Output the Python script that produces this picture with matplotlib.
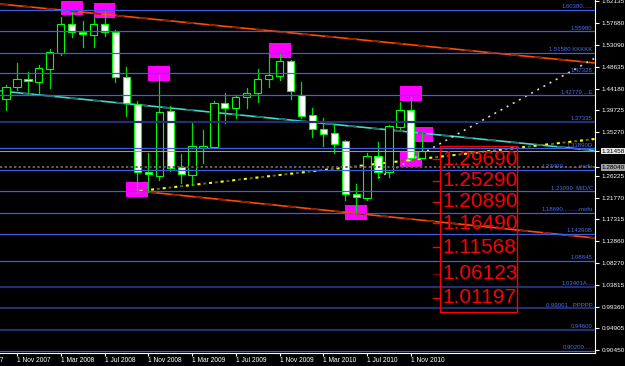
import numpy as np
import matplotlib
matplotlib.use("Agg")
import matplotlib.pyplot as plt
from matplotlib.patches import Rectangle

plt.rcParams['font.family'] = ['Liberation Sans', 'DejaVu Sans']

# monthly bars, month index 0 = 1 Nov 2007
months = list(range(-1, 38))
opens = [1.4205, 1.4452, 1.4617, 1.4555, 1.4822, 1.5151, 1.5747, 1.5583, 1.5521, 1.5747,
         1.5583, 1.4658, 1.4103, 1.2705, 1.2622, 1.3959, 1.2807, 1.2643, 1.3198, 1.3219,
         1.4123, 1.4020, 1.4247, 1.4329, 1.4617, 1.4678, 1.4987, 1.4288, 1.3876, 1.3589,
         1.3506, 1.3342, 1.2252, 1.2170, 1.3034, 1.2705, 1.3630, 1.3979, 1.2992]
highs = [1.4493, 1.4946, 1.4761, 1.4904, 1.5233, 1.5891, 1.5994, 1.5809, 1.5871, 1.5994,
         1.5624, 1.4863, 1.4164, 1.3095, 1.4699, 1.4062, 1.3075, 1.3712, 1.3568, 1.4164,
         1.4329, 1.4288, 1.4432, 1.4822, 1.5131, 1.5151, 1.5005, 1.4555, 1.4020, 1.3815,
         1.3691, 1.3360, 1.2458, 1.3095, 1.3321, 1.3671, 1.4144, 1.4247, 1.3506]
lows = [1.3979, 1.4390, 1.4329, 1.4329, 1.4432, 1.5110, 1.5480, 1.5275, 1.5275, 1.5501,
        1.4555, 1.3856, 1.2293, 1.2293, 1.2540, 1.2725, 1.2478, 1.2437, 1.2890, 1.3198,
        1.3712, 1.3815, 1.4020, 1.4144, 1.4452, 1.4596, 1.4205, 1.3815, 1.3424, 1.3239,
        1.3095, 1.2129, 1.1862, 1.2129, 1.2581, 1.2602, 1.3589, 1.2950, 1.2992]
closes = [1.4452, 1.4617, 1.4576, 1.4843, 1.5172, 1.5747, 1.5583, 1.5542, 1.5747, 1.5583,
          1.4658, 1.4123, 1.2705, 1.2664, 1.3938, 1.2787, 1.2664, 1.3239, 1.3239, 1.4123,
          1.4020, 1.4247, 1.4329, 1.4617, 1.4699, 1.4987, 1.4370, 1.3856, 1.3589, 1.3486,
          1.3280, 1.2252, 1.2190, 1.3034, 1.2705, 1.3650, 1.3979, 1.2992, 1.3146]

# horizontal levels with their labels
levels = [1.60380, 1.55980, 1.51580, 1.47328, 1.42779, 1.37335, 1.31890, 1.27490,
          1.23090, 1.18690, 1.14290, 1.08845, 1.03401, 0.99001, 0.94600, 0.90200]
level_labels = ["1.60380......", "1.55980", "1.51580 KKKKK", "1.47328", "1.42779....E",
                "1.37335", "1.31890D", "1.27490..........mofu", "1.23090  MID/C",
                "1.18690..........mofu", "1.14290B", "1.08845", "1.03401A...",
                "0.99001   PPPPP", "0.94600", "0.90200....."]
dark_levels = [1.37335, 1.03401, 0.99001, 0.94600]

targets = [1.29690, 1.25290, 1.20890, 1.16490, 1.11568, 1.06123, 1.01197]

bid = 1.31458
dotted_level = 1.28040

# trendlines: (month, price) anchors
orange_top = ([-1.55, 52.8], [1.6159, 1.4946])
orange_low = ([12.0, 52.8], [1.2293, 1.1348])
cyan_line = ([-1.55, 52.8], [1.4370, 1.3147])
yellow_line = ([11.2, 52.8], [1.2314, 1.3383])
white_line = ([33.0, 53.0], [1.2581, 1.5069])

# magenta marker boxes: start month, top, bottom, width in months
boxes = [(4, 1.6220, 1.5932, 2), (7, 1.6179, 1.5871, 2), (12, 1.4884, 1.4576, 2),
         (10, 1.2499, 1.2190, 2), (23, 1.5357, 1.5048, 2), (30, 1.2026, 1.1718, 2),
         (35, 1.4473, 1.4164, 2), (35, 1.3116, 1.2807, 2), (36.4, 1.3630, 1.3321, 1.6)]

yticks = [1.62135, 1.57680, 1.53090, 1.48635, 1.44180, 1.39725, 1.35270, 1.31458, 1.28040,
          1.26225, 1.21770, 1.17315, 1.12860, 1.08270, 1.03815, 0.99360, 0.94905, 0.90450]
xtick_pos = list(range(0, 37, 4))
xtick_labels = ["1 Nov 2007", "1 Mar 2008", "1 Jul 2008", "1 Nov 2008", "1 Mar 2009",
                "1 Jul 2009", "1 Nov 2009", "1 Mar 2010", "1 Jul 2010", "1 Nov 2010"]

fig = plt.figure(figsize=(6.25, 3.66), dpi=100, facecolor='black')
ax = fig.add_axes([0, 13 / 366, 595 / 625, 353 / 366])
ax.set_facecolor('black')
ax.set_xlim(-1.554, 52.83)
ax.set_ylim(0.8983, 1.6241)

# magenta boxes (behind candles)
for m, top, bot, w in boxes:
    ax.add_patch(Rectangle((m, bot), w, top - bot, facecolor='#ff00ff', edgecolor='none', zorder=2))

# trendlines
def ray(pts, base, over, lw, dashes, z=3):
    ax.plot(pts[0], pts[1], color=base, lw=lw, zorder=z, solid_capstyle='butt')
    if over:
        ax.plot(pts[0], pts[1], color=over, lw=lw, dashes=dashes, zorder=z)

ray(orange_top, '#ff4a00', '#8a2000', 1.2, (5, 9))
ray(orange_low, '#ff4a00', '#8a2000', 1.2, (5, 9))
ray(cyan_line, '#3fd8c8', '#1d6a66', 1.2, (5, 9))
ax.plot(yellow_line[0], yellow_line[1], color='#6a6a00', lw=1.4, dashes=(1.5, 1.5), zorder=3)
ax.plot(yellow_line[0], yellow_line[1], color='#ffff00', lw=1.4, dashes=(1.5, 4.5), zorder=3)
ax.plot(white_line[0], white_line[1], color='#d8d8d8', lw=1.2, dashes=(1.2, 3), zorder=3)

# candles
for m, o, h, l, c in zip(months, opens, highs, lows, closes):
    ax.plot([m, m], [l, h], color='#00e000', lw=0.9, zorder=4)
    fill = 'black' if c >= o else 'white'
    ax.add_patch(Rectangle((m - 0.33, min(o, c)), 0.66, max(abs(c - o), 0.0015),
                           facecolor=fill, edgecolor='#00ff00', lw=0.8, zorder=5))

# horizontal levels
for lv, txt in zip(levels, level_labels):
    if lv in dark_levels:
        ax.axhline(lv, color='#24306e', lw=1.6, zorder=6)
    else:
        ax.axhline(lv, color='#3c5ee0', lw=0.9, zorder=6)
    ax.text(0.996, lv + 0.0015, txt, transform=ax.get_yaxis_transform(), ha='right', va='bottom',
            fontsize=4.3, color='#4a6cf0', zorder=8)

ax.axhline(bid, color='#9a9a9a', lw=0.8, zorder=6)
ax.axhline(dotted_level, color='#606060', lw=1.4, dashes=(1.2, 1.2), zorder=6)

# target box
for i, t in enumerate(targets):
    ax.text(38.85, t, "%.5f" % t, fontsize=15, color='#ff0000', ha='left', va='center', zorder=7)
    ax.plot([38.0, 38.67], [t, t], color='#800000' if i == 5 else '#ff0000', lw=1, zorder=7)
ax.add_patch(Rectangle((38.67, 0.9826), 7.05, 1.3239 - 0.9826, fill=False,
                       edgecolor='#ff0000', lw=1, zorder=7))

# axes styling
for s in ['left', 'top']:
    ax.spines[s].set_visible(False)
ax.spines['right'].set_color('white')
ax.spines['bottom'].set_color('white')
ax.yaxis.tick_right()
ax.set_yticks(yticks)
ax.set_yticklabels(["%.5f" % v for v in yticks])
ax.tick_params(axis='y', colors='white', length=3, width=0.8, labelsize=4.6, pad=2)
ax.set_xticks(xtick_pos)
ax.set_xticklabels(xtick_labels)
ax.tick_params(axis='x', colors='white', length=2, width=0.8, labelsize=4.8, pad=1)
for lab in ax.get_xticklabels():
    lab.set_ha('left')
ax.text(-4, -0.012, "1 Jul 2007", transform=ax.get_xaxis_transform(), ha='left', va='top',
        fontsize=4.8, color='white', clip_on=False)

for lab in ax.get_yticklabels():
    if lab.get_text() == "1.31458":
        lab.set_color('black')
        lab.set_bbox(dict(facecolor='#e8e8e8', edgecolor='none', pad=0.6))
    elif lab.get_text() == "1.28040":
        lab.set_color('black')
        lab.set_bbox(dict(facecolor='#a0a0a0', edgecolor='none', pad=0.6))

fig.savefig('out.png', dpi=100, facecolor='black')
